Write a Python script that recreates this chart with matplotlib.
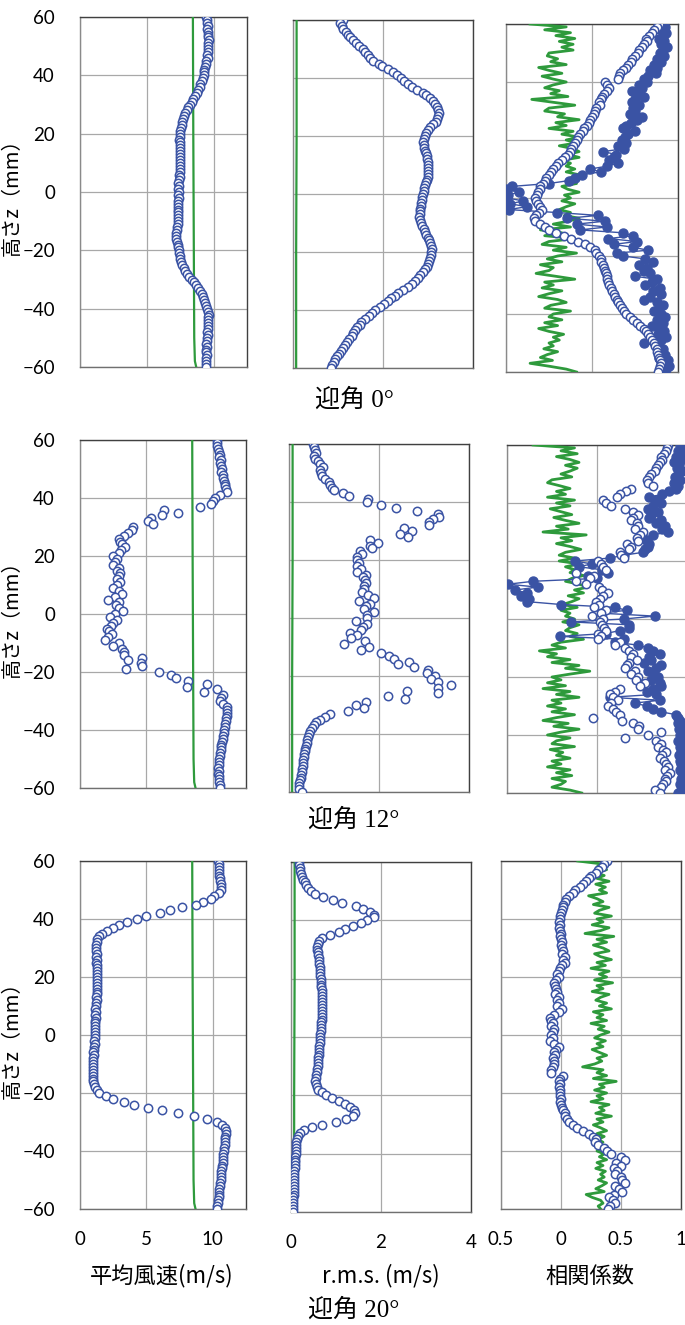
import matplotlib.pyplot as plt
import numpy as np

plt.rcParams['font.family'] = ['Lato', 'Noto Sans CJK JP', 'DejaVu Sans']

BLUE = '#3a53a4'
GREEN = '#2e9a3c'

# measuring heights (mm), top to bottom
z = np.arange(60, -61, -1)

# ---- angle of attack 0 deg ----
u_0 = [9.45, 9.5, 9.5, 9.55, 9.5, 9.6, 9.55, 9.6, 9.65, 9.6,
       9.6, 9.6, 9.55, 9.5, 9.55, 9.45, 9.4, 9.35, 9.3, 9.3,
       9.25, 9.2, 9.1, 9.0, 8.95, 8.85, 8.75, 8.6, 8.45, 8.35,
       8.25, 8.1, 8.0, 7.85, 7.8, 7.7, 7.65, 7.6, 7.55, 7.5,
       7.5, 7.45, 7.4, 7.45, 7.5, 7.45, 7.5, 7.45, 7.5, 7.5,
       7.45, 7.45, 7.5, 7.45, 7.4, 7.45, 7.4, 7.35, 7.4, 7.35,
       7.4, 7.35, 7.4, 7.35, 7.3, 7.35, 7.3, 7.3, 7.35, 7.3,
       7.3, 7.3, 7.25, 7.25, 7.2, 7.2, 7.2, 7.25, 7.3, 7.35,
       7.4, 7.4, 7.45, 7.5, 7.55, 7.65, 7.75, 7.85, 8.0, 8.15,
       8.35, 8.5, 8.7, 8.85, 9.0, 9.1, 9.2, 9.3, 9.35, 9.45,
       9.5, 9.6, 9.65, 9.6, 9.6, 9.55, 9.6, 9.55, 9.5, 9.55,
       9.5, 9.5, 9.45, 9.5, 9.45, 9.45, 9.5, 9.45, 9.4, 9.45,
       9.45]
rms_0 = [1.1, 1.05, 1.08, 1.12, 1.18, 1.22, 1.27, 1.33, 1.4, 1.47,
         1.55, 1.6, 1.66, 1.72, 1.78, 1.9, 1.98, 2.1, 2.22, 2.3,
         2.4, 2.47, 2.55, 2.65, 2.75, 2.88, 2.96, 3.05, 3.12, 3.16,
         3.2, 3.22, 3.24, 3.23, 3.2, 3.18, 3.12, 3.05, 3.0, 2.96,
         2.93, 2.9, 2.89, 2.9, 2.92, 2.94, 2.95, 2.97, 2.98, 2.99,
         2.99, 3.0, 3.0, 3.01, 3.0, 2.98, 2.96, 2.94, 2.92, 2.9,
         2.88, 2.87, 2.86, 2.85, 2.84, 2.83, 2.83, 2.82, 2.81, 2.82,
         2.84, 2.86, 2.9, 2.93, 2.96, 3.0, 3.03, 3.05, 3.07, 3.08,
         3.07, 3.06, 3.04, 3.02, 3.0, 2.97, 2.93, 2.88, 2.83, 2.77,
         2.72, 2.65, 2.56, 2.45, 2.33, 2.26, 2.18, 2.1, 2.02, 1.93,
         1.83, 1.76, 1.68, 1.6, 1.52, 1.48, 1.43, 1.38, 1.33, 1.3,
         1.25, 1.2, 1.15, 1.1, 1.06, 1.02, 0.98, 0.94, 0.9, 0.87,
         0.85]
corr_open_0 = [0.78, 0.76, 0.72, 0.7, 0.66, 0.63, 0.64, 0.6, 0.58, 0.55,
               0.53, 0.5, 0.47, 0.45, 0.42, 0.4, 0.36, 0.33, 0.31, 0.3,
               0.15, 0.18, 0.2, 0.17, 0.14, 0.12, 0.1, 0.08, 0.09, 0.05,
               0.03, 0.02, 0.0, -0.02, -0.04, -0.06, -0.09, -0.11, -0.14, -0.16,
               -0.18, -0.2, -0.22, -0.24, -0.26, -0.28, -0.31, -0.35, -0.39, -0.42,
               -0.45, -0.48, -0.5, -0.53, -0.55, -0.57, -0.6, -0.61, -0.63, -0.64,
               -0.66, -0.65, -0.63, -0.6, -0.58, -0.62, -0.65, -0.68, -0.66, -0.6,
               -0.55, -0.5, -0.42, -0.33, -0.24, -0.16, -0.08, -0.02, 0.03, 0.05,
               0.08, 0.1, 0.11, 0.13, 0.14, 0.15, 0.16, 0.17, 0.18, 0.19,
               0.2, 0.22, 0.23, 0.25, 0.27, 0.29, 0.3, 0.32, 0.35, 0.37,
               0.4, 0.44, 0.48, 0.52, 0.56, 0.6, 0.63, 0.65, 0.67, 0.7,
               0.72, 0.73, 0.75, 0.76, 0.77, 0.78, 0.79, 0.8, 0.79, 0.78,
               0.77]
corr_fill_0 = [0.82, 0.85, 0.8, 0.86, 0.83, 0.78, 0.84, 0.8, 0.87, 0.82,
               0.79, 0.84, 0.76, 0.8, 0.72, 0.75, 0.68, 0.74, 0.65, 0.6,
               0.64, 0.55, 0.58, 0.47, 0.52, 0.6, 0.5, 0.46, 0.55, 0.48,
               0.5, 0.44, 0.58, 0.52, 0.45, 0.4, 0.36, 0.5, 0.42, 0.38,
               0.35, 0.4, 0.3, 0.37, 0.13, 0.28, 0.25, 0.2, 0.3, 0.18,
               -0.02, 0.1, -0.12, -0.2, -0.27, -0.5, -0.93, -0.99, -0.85, -0.98,
               -0.99, -0.8, -0.95, -0.76, -0.97, -0.41, 0.07, -0.29, 0.15, -0.18,
               0.17, -0.14, 0.36, 0.48, 0.19, 0.52, 0.25, 0.48, 0.65, 0.29,
               0.36, 0.62, 0.71, 0.55, 0.64, 0.6, 0.67, 0.5, 0.75, 0.7,
               0.62, 0.79, 0.71, 0.8, 0.68, 0.6, 0.75, 0.82, 0.78, 0.72,
               0.8, 0.85, 0.76, 0.82, 0.7, 0.78, 0.84, 0.77, 0.86, 0.8,
               0.6, 0.75, 0.82, 0.8, 0.85, 0.78, 0.88, 0.84, 0.89, 0.86,
               0.83]
corr_ref_0 = [-0.72, -0.3, -0.55, -0.25, -0.42, -0.2, -0.38, -0.22, -0.35, -0.22,
              -0.5, -0.52, -0.4, -0.48, -0.3, -0.62, -0.5, -0.35, -0.58, -0.45,
              -0.3, -0.45, -0.55, -0.38, -0.48, -0.28, -0.7, -0.45, -0.2, -0.5,
              -0.55, -0.32, -0.4, -0.15, -0.42, -0.3, -0.5, -0.22, -0.35, -0.15,
              -0.3, -0.18, -0.38, -0.22, -0.15, -0.28, -0.15, -0.35, -0.25, -0.3,
              -0.2, -0.3, -0.15, -0.25, -0.3, -0.18, -0.35, -0.28, -0.15, -0.32,
              -0.25, -0.35, -0.2, -0.3, -0.38, -0.25, -0.32, -0.15, -0.28, -0.45,
              -0.25, -0.6, -0.35, -0.55, -0.2, -0.5, -0.58, -0.3, -0.45, -0.18,
              -0.4, -0.52, -0.35, -0.6, -0.45, -0.5, -0.65, -0.42, -0.2, -0.55,
              -0.45, -0.58, -0.35, -0.5, -0.62, -0.4, -0.3, -0.48, -0.55, -0.25,
              -0.45, -0.5, -0.35, -0.55, -0.4, -0.62, -0.5, -0.33, -0.45, -0.38,
              -0.5, -0.45, -0.56, -0.4, -0.52, -0.6, -0.46, -0.72, -0.5, -0.3,
              -0.18]

# ---- angle of attack 12 deg ----
u_12 = [10.3, 10.3, 10.35, 10.4, 10.45, 10.55, 10.5, 10.6, 10.55, 10.65,
        10.7, 10.65, 10.75, 10.8, 10.85, 10.9, 10.95, 11.0, 11.05, 10.55,
        10.2, 10.0, 9.9, 9.05, 6.33, 7.4, 6.15, 5.33, 5.15, 5.5,
        4.0, 3.9, 3.64, 3.3, 2.9, 3.0, 3.2, 3.4, 3.1, 2.9,
        2.5, 2.76, 2.6, 2.5, 2.96, 2.8, 3.0, 2.9, 2.76, 3.0,
        2.8, 2.5, 2.9, 3.14, 2.6, 2.14, 2.9, 2.7, 2.95, 3.27,
        2.6, 2.26, 2.76, 2.5, 2.3, 2.0, 2.2, 2.39, 2.1, 1.88,
        2.9, 2.5, 3.14, 3.3, 3.35, 4.65, 3.64, 4.6, 4.65, 3.5,
        5.98, 6.83, 7.24, 8.17, 9.6, 8.09, 10.35, 9.35, 10.75, 10.6,
        10.55, 10.8, 11.05, 11.1, 11.1, 11.05, 11.0, 11.0, 10.95, 10.9,
        10.85, 10.85, 10.75, 10.75, 10.7, 10.65, 10.6, 10.6, 10.55, 10.55,
        10.5, 10.5, 10.45, 10.4, 10.45, 10.4, 10.45, 10.5, 10.5, 10.55,
        10.55]
rms_12 = [0.54, 0.56, 0.58, 0.61, 0.55, 0.58, 0.65, 0.68, 0.75, 0.69,
          0.7, 0.73, 0.8, 0.88, 0.92, 0.95, 1.0, 1.21, 1.33, 1.75,
          1.74, 2.05, 2.37, 2.85, 3.31, 3.33, 3.2, 3.12, 3.1, 2.56,
          2.73, 2.47, 2.65, 1.81, 1.98, 1.8, 1.85, 1.57, 1.62, 1.51,
          1.51, 1.55, 1.51, 1.6, 1.51, 1.72, 1.65, 1.68, 1.7, 1.66,
          1.66, 1.63, 1.75, 1.89, 1.55, 1.81, 1.7, 1.66, 1.89, 1.74,
          1.74, 1.49, 1.74, 1.65, 1.59, 1.36, 1.51, 1.38, 1.68, 1.23,
          1.78, 1.6, 2.05, 2.22, 2.34, 2.67, 2.43, 2.77, 3.09, 3.07,
          3.24, 3.15, 3.3, 3.59, 3.3, 2.62, 3.3, 2.19, 2.58, 1.72,
          1.48, 1.66, 1.3, 0.91, 0.8, 0.69, 0.6, 0.55, 0.52, 0.46,
          0.44, 0.42, 0.4, 0.39, 0.37, 0.36, 0.35, 0.34, 0.33, 0.32,
          0.31, 0.3, 0.29, 0.28, 0.27, 0.26, 0.24, 0.23, 0.22, 0.22,
          0.28]
corr_open_12 = [0.79, 0.78, 0.77, 0.74, 0.71, 0.72, 0.7, 0.68, 0.66, 0.64,
                0.6, 0.58, 0.56, 0.57, 0.62, 0.38, 0.32, 0.25, 0.22, 0.07,
                0.1, 0.16, 0.31, 0.4, 0.46, 0.4, 0.38, 0.44, 0.46, 0.42,
                0.51, 0.48, 0.44, 0.46, 0.33, 0.38, 0.36, 0.25, 0.27, 0.3,
                0.01, 0.04, 0.07, 0.1, -0.23, -0.03, -0.08, -0.23, -0.12, 0.02,
                0.05, 0.12, 0.07, 0.03, -0.01, 0.02, -0.03, 0.1, 0.04, -0.06,
                0.07, 0.03, 0.05, 0.08, 0.1, 0.01, 0.04, 0.01, 0.25, 0.2,
                0.31, 0.35, 0.4, 0.38, 0.44, 0.36, 0.33, 0.31, 0.42, 0.38,
                0.46, 0.43, 0.53, 0.48, 0.25, 0.2, 0.14, 0.18, 0.23, 0.16,
                0.12, 0.18, 0.21, 0.25, -0.04, 0.28, 0.4, 0.47, 0.45, 0.71,
                0.57, 0.31, 0.65, 0.71, 0.68, 0.73, 0.77, 0.72, 0.7, 0.74,
                0.77, 0.79, 0.76, 0.81, 0.78, 0.75, 0.77, 0.73, 0.71, 0.64,
                0.7]
corr_fill_12 = [0.92, 0.95, 0.9, 0.94, 0.88, 0.93, 0.86, 0.91, 0.89, 0.94,
                0.9, 0.87, 0.92, 0.85, 0.9, 0.88, 0.8, 0.72, 0.58, 0.64,
                0.71, 0.62, 0.57, 0.68, 0.6, 0.58, 0.71, 0.66, 0.75, 0.72,
                0.79, 0.62, 0.51, 0.55, 0.58, 0.57, 0.53, 0.51, 0.3, 0.14,
                -0.25, -0.06, -0.2, 0.05, 0.12, -0.1, 0.0, -0.71, -0.99, -0.66,
                -0.91, -0.78, -0.85, -0.76, -0.78, -0.4, 0.2, 0.33, 0.05, 0.64,
                0.3, -0.29, 0.36, 0.36, 0.25, 0.1, -0.41, 0.3, 0.2, 0.45,
                0.57, 0.62, 0.7, 0.58, 0.6, 0.52, 0.71, 0.66, 0.57, 0.63,
                0.68, 0.6, 0.7, 0.71, 0.62, 0.55, 0.65, 0.14, 0.7, 0.42,
                0.55, 0.62, 0.71, 0.88, 0.9, 0.92, 0.9, 0.93, 0.91, 0.94,
                0.92, 0.93, 0.9, 0.94, 0.92, 0.95, 0.93, 0.91, 0.94, 0.92,
                0.93, 0.95, 0.92, 0.94, 0.96, 0.93, 0.95, 0.92, 0.94, 0.93,
                0.9]
corr_ref_12 = [-0.71, -0.25, -0.4, -0.22, -0.45, -0.3, -0.2, -0.35, -0.22, -0.3,
               -0.4, -0.28, -0.5, -0.55, -0.42, -0.3, -0.45, -0.35, -0.55, -0.25,
               -0.45, -0.3, -0.52, -0.4, -0.28, -0.48, -0.35, -0.2, -0.45, -0.32,
               -0.6, -0.12, -0.4, -0.28, -0.45, -0.3, -0.18, -0.35, -0.42, -0.25,
               -0.42, -0.2, -0.35, -0.25, -0.3, -0.15, -0.28, -0.35, -0.2, -0.1,
               -0.25, -0.15, -0.32, -0.2, -0.28, -0.38, -0.22, -0.4, -0.3, -0.35,
               -0.25, -0.38, -0.2, -0.3, -0.35, -0.22, -0.3, -0.15, -0.4, -0.5,
               -0.35, -0.64, -0.45, -0.55, -0.3, -0.5, -0.2, -0.35, -0.08, -0.3,
               -0.5, -0.4, -0.55, -0.35, -0.6, -0.3, -0.45, -0.2, -0.5, -0.4,
               -0.55, -0.35, -0.5, -0.25, -0.45, -0.6, -0.32, -0.48, -0.2, -0.4,
               -0.55, -0.3, -0.45, -0.5, -0.25, -0.52, -0.38, -0.45, -0.3, -0.5,
               -0.4, -0.55, -0.3, -0.45, -0.28, -0.5, -0.35, -0.4, -0.5, -0.3,
               -0.17]

# ---- angle of attack 20 deg ----
u_20 = [10.4, 10.45, 10.5, 10.5, 10.5, 10.5, 10.55, 10.55, 10.6, 10.6,
        10.6, 10.45, 10.1, 9.9, 9.25, 8.7, 7.7, 6.8, 6.0, 5.0,
        4.3, 3.55, 2.95, 2.45, 2.0, 1.62, 1.4, 1.3, 1.25, 1.2,
        1.2, 1.2, 1.25, 1.2, 1.25, 1.2, 1.25, 1.3, 1.25, 1.3,
        1.3, 1.25, 1.3, 1.3, 1.25, 1.3, 1.25, 1.2, 1.25, 1.2,
        1.2, 1.15, 1.2, 1.15, 1.2, 1.15, 1.15, 1.1, 1.15, 1.1,
        1.1, 1.1, 1.05, 1.1, 1.05, 1.05, 1.0, 1.05, 1.0, 1.0,
        1.0, 0.95, 1.0, 0.95, 0.95, 1.0, 1.0, 1.05, 1.1, 1.25,
        1.45, 1.95, 2.5, 3.3, 4.1, 5.1, 6.2, 7.4, 8.55, 9.55,
        10.3, 10.7, 10.9, 11.0, 11.0, 10.95, 10.95, 10.9, 10.9, 10.85,
        10.85, 10.8, 10.8, 10.75, 10.75, 10.7, 10.7, 10.65, 10.65, 10.6,
        10.6, 10.55, 10.55, 10.5, 10.5, 10.45, 10.45, 10.4, 10.4, 10.35,
        10.3]
rms_20 = [0.17, 0.18, 0.19, 0.2, 0.22, 0.24, 0.27, 0.3, 0.33, 0.38,
          0.45, 0.54, 0.71, 0.93, 1.13, 1.45, 1.61, 1.76, 1.85, 1.84,
          1.69, 1.56, 1.38, 1.21, 1.06, 0.87, 0.69, 0.63, 0.6, 0.58,
          0.58, 0.6, 0.6, 0.62, 0.62, 0.63, 0.64, 0.64, 0.65, 0.65,
          0.66, 0.66, 0.67, 0.67, 0.68, 0.68, 0.68, 0.69, 0.69, 0.69,
          0.69, 0.69, 0.68, 0.68, 0.68, 0.67, 0.67, 0.66, 0.66, 0.65,
          0.65, 0.64, 0.64, 0.63, 0.63, 0.62, 0.62, 0.61, 0.61, 0.6,
          0.59, 0.58, 0.57, 0.56, 0.55, 0.54, 0.55, 0.57, 0.6, 0.69,
          0.78, 0.9, 1.06, 1.2, 1.32, 1.4, 1.43, 1.38, 1.23, 1.01,
          0.69, 0.47, 0.28, 0.19, 0.15, 0.13, 0.12, 0.11, 0.11, 0.1,
          0.1, 0.09, 0.09, 0.08, 0.08, 0.08, 0.07, 0.07, 0.07, 0.07,
          0.06, 0.06, 0.06, 0.06, 0.06, 0.05, 0.05, 0.05, 0.05, 0.05,
          0.05]
corr_open_20 = [0.38, 0.36, 0.34, 0.31, 0.29, 0.25, 0.23, 0.21, 0.18, 0.16,
                0.12, 0.1, 0.07, 0.04, 0.03, 0.02, 0.02, 0.01, 0.0, -0.01,
                -0.01, -0.02, -0.01, -0.02, -0.01, 0.0, -0.01, 0.0, 0.01, 0.0,
                0.01, 0.02, 0.01, 0.03, 0.02, 0.03, 0.01, -0.01, -0.02, -0.03,
                -0.02, -0.04, -0.06, -0.05, -0.04, -0.03, -0.05, -0.02, -0.03, -0.02,
                -0.03, 0.01, -0.02, -0.06, -0.09, -0.08, -0.07, -0.08, -0.06, -0.07,
                -0.08, -0.07, -0.09, -0.06, -0.02, -0.04, -0.06, -0.05, -0.07, -0.06,
                -0.06, -0.07, -0.08, -0.08, 0.02, -0.01, -0.02, -0.01, -0.02, -0.01,
                -0.01, -0.01, 0.0, -0.01, 0.0, 0.01, 0.02, 0.03, 0.03, 0.05,
                0.07, 0.1, 0.13, 0.18, 0.23, 0.27, 0.29, 0.28, 0.31, 0.36,
                0.38, 0.42, 0.5, 0.53, 0.46, 0.5, 0.44, 0.47, 0.45, 0.5,
                0.51, 0.53, 0.45, 0.48, 0.51, 0.44, 0.4, 0.43, 0.45, 0.41,
                0.39]
corr_ref_20 = [0.14, 0.34, 0.3, 0.38, 0.28, 0.36, 0.3, 0.4, 0.29, 0.37,
               0.32, 0.38, 0.23, 0.3, 0.35, 0.27, 0.4, 0.32, 0.28, 0.42,
               0.3, 0.35, 0.26, 0.4, 0.33, 0.2, 0.44, 0.3, 0.38, 0.27,
               0.35, 0.4, 0.28, 0.33, 0.42, 0.3, 0.37, 0.25, 0.4, 0.32,
               0.38, 0.28, 0.43, 0.3, 0.35, 0.26, 0.4, 0.33, 0.29, 0.38,
               0.32, 0.42, 0.27, 0.35, 0.3, 0.38, 0.25, 0.36, 0.31, 0.4,
               0.33, 0.28, 0.37, 0.3, 0.35, 0.26, 0.32, 0.38, 0.3, 0.34,
               0.28, 0.18, 0.35, 0.3, 0.38, 0.27, 0.46, 0.32, 0.36, 0.28,
               0.38, 0.3, 0.35, 0.25, 0.4, 0.32, 0.36, 0.29, 0.42, 0.3,
               0.35, 0.27, 0.33, 0.38, 0.3, 0.36, 0.31, 0.35, 0.28, 0.33,
               0.3, 0.36, 0.32, 0.38, 0.3, 0.35, 0.29, 0.37, 0.33, 0.36,
               0.31, 0.38, 0.34, 0.29, 0.36, 0.21, 0.26, 0.33, 0.35, 0.31,
               0.33]

# reference (green) lines of the mean-velocity and r.m.s. panels
z_ref = [60, 20, -20, -50, -58, -60]
u_ref = [8.45, 8.48, 8.52, 8.55, 8.6, 8.7]
rms_ref = [0.08, 0.08, 0.07, 0.07, 0.07, 0.07]

captions = ['迎角 0°', '迎角 12°', '迎角 20°']
xlabels = ['平均風速(m/s)', 'r.m.s. (m/s)', '相関係数']

W, H = 685, 1325
fig = plt.figure(figsize=(W / 100, H / 100), dpi=100)


def add_panel(left, top, right, bottom):
    """Adds axes given in pixel coordinates of the figure."""
    return fig.add_axes([left / W, 1 - bottom / H, (right - left) / W, (bottom - top) / H])


def style_panel(ax, xlim, xticks, xticklabels, show_x, show_y):
    ax.set_xlim(*xlim)
    ax.set_ylim(-60, 60)
    ax.set_xticks(xticks)
    ax.set_yticks(np.arange(-60, 61, 20))
    ax.grid(True, color='#a8a8a8', linewidth=0.9)
    ax.set_axisbelow(True)
    for s in ax.spines.values():
        s.set_color('#404040')
        s.set_linewidth(1.0)
    ax.spines['left'].set_color('#8a8a8a')
    ax.spines['bottom'].set_color('#707070')
    ax.tick_params(length=0, labelsize=13.5, colors='black')
    ax.tick_params(axis='y', pad=18)
    ax.tick_params(axis='x', pad=16)
    if show_x:
        ax.set_xticklabels(xticklabels)
    else:
        ax.set_xticklabels([])
    if show_y:
        ax.set_ylabel('高さz（mm）', fontsize=14.5, family=['Noto Sans CJK JP'])
        ax.yaxis.set_label_coords(-0.345, 0.5)
    else:
        ax.set_yticklabels([])


def open_circles(ax, x):
    ax.plot(x, z, linestyle='None', marker='o', markersize=6,
            markerfacecolor='white', markeredgecolor=BLUE, markeredgewidth=1.1, zorder=4)


# pixel boxes (left, top, right, bottom) for each row / column
boxes = [
    [(80, 17, 247, 367), (293, 20, 473, 368), (506, 24, 678, 372)],
    [(80, 440, 246, 788), (289, 444, 469, 792), (507, 445, 687, 793)],
    [(80, 861, 246, 1209), (291, 862, 471, 1212), (501, 861, 681, 1209)],
]
mean_data = [u_0, u_12, u_20]
rms_data = [rms_0, rms_12, rms_20]
open_data = [corr_open_0, corr_open_12, corr_open_20]
fill_data = [corr_fill_0, corr_fill_12, None]
ref_data = [corr_ref_0, corr_ref_12, corr_ref_20]
caption_y = [400, 820, 1310]

for row in range(3):
    last = row == 2
    # mean velocity
    ax = add_panel(*boxes[row][0])
    ax.plot(u_ref, z_ref, color=GREEN, linewidth=1.6, zorder=3)
    open_circles(ax, mean_data[row])
    style_panel(ax, (0, 12.5), [0, 5, 10], ['0', '5', '10'], last, True)

    # r.m.s.
    ax = add_panel(*boxes[row][1])
    ax.plot(rms_ref, z_ref, color=GREEN, linewidth=1.6, zorder=3)
    open_circles(ax, rms_data[row])
    style_panel(ax, (0, 4), [0, 2, 4], ['0', '2', '4'], last, False)

    # correlation
    ax = add_panel(*boxes[row][2])
    ax.plot(ref_data[row], z, color=GREEN, linewidth=2.0, zorder=3)
    if fill_data[row] is not None:
        ax.plot(fill_data[row], z, color=BLUE, linewidth=1.0, marker='o',
                markersize=6.5, markeredgecolor=BLUE, zorder=4)
    open_circles(ax, open_data[row])
    if last:
        style_panel(ax, (-0.5, 1), [-0.5, 0, 0.5, 1], ['0.5', '0', '0.5', '1'], True, False)
    else:
        style_panel(ax, (-1, 1), [-1, 0, 1], ['-1', '0', '1'], False, False)

    fig.text(354 / W, 1 - caption_y[row] / H, captions[row], ha='center', va='center',
             fontsize=18, family=['Liberation Serif', 'Noto Sans CJK JP'])

for x_px, label in zip([162, 381, 590], xlabels):
    fig.text(x_px / W, 1 - 1276 / H, label, ha='center', va='center',
             fontsize=16, family=['Noto Sans CJK JP'])

fig.savefig('out.png', dpi=100)
